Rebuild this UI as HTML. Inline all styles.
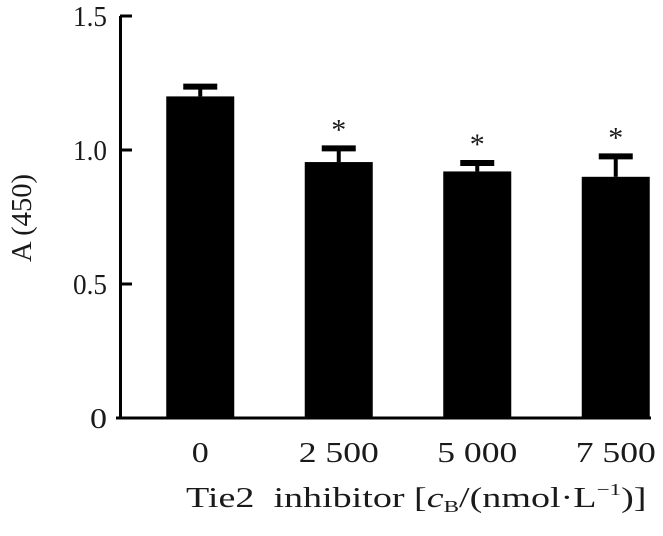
<!DOCTYPE html>
<html><head><meta charset="utf-8"><style>
body{margin:0;background:#fff;}
svg text{font-family:"Liberation Serif",serif;fill:#1a1a1a;}
</style></head><body>
<svg id="chart" width="663" height="531" viewBox="0 0 663 531" xmlns="http://www.w3.org/2000/svg">
<g id="g"></g>
</svg>
<script>
const categories = ["0","2 500","5 000","7 500"];
const values = [1.20, 0.955, 0.92, 0.90];
const errors = [0.04, 0.055, 0.035, 0.08];
const stars = [false, true, true, true];
const yTicks = [0, 0.5, 1.0, 1.5];
const yTickLabels = ["0","0.5","1.0","1.5"];

const NS="http://www.w3.org/2000/svg";
const g=document.getElementById('g');
const y0=418, yTop=16, ymax=1.5;
function y(v){return y0-(v/ymax)*(y0-yTop);}
const bandStart=131, band=138.5, barW=68;
function xc(i){return bandStart+band*(i+0.5);}
function mk(tag,attrs,parent){const e=document.createElementNS(NS,tag);for(const k in attrs)e.setAttribute(k,attrs[k]);(parent||g).appendChild(e);return e;}

let ax=mk('line',{x1:120.5,y1:yTop,x2:120.5,y2:y0+1.5,stroke:'#000','stroke-width':3});


let xa=mk('line',{x1:116,y1:y0,x2:651,y2:y0,stroke:'#000','stroke-width':3});



yTicks.forEach((t,i)=>{
  if(t>0){
    const tk=mk('line',{x1:120,y1:y(t),x2:132,y2:y(t),stroke:'#000','stroke-width':3});
    
    
  }
  const s=yTickLabels[i];
  const tx=mk('text',{x:107-(s.length===1?17:34),y:y(t)+10,'font-size':28,textLength:(s.length===1?17:34),lengthAdjust:'spacingAndGlyphs'});
  tx.textContent=s;
  
  
});

values.forEach((v,i)=>{
  const cx=xc(i);
  const r=mk('rect',{x:cx-barW/2,y:y(v),width:barW,height:y0-y(v),fill:'#000'});
  
  
  const ye=y(v+errors[i]);
  const st=mk('line',{x1:cx,y1:y(v),x2:cx,y2:ye,stroke:'#000','stroke-width':4});
  
  
  const cp=mk('line',{x1:cx-17,y1:ye+1,x2:cx+17,y2:ye+1,stroke:'#000','stroke-width':6});
  
  
  if(stars[i]){
    const s=mk('text',{x:cx,y:ye-8,'text-anchor':'middle','font-size':30});
    s.textContent='*';
    
    
  }
  const c=categories[i];
  const lw=c.length===1?17:80;
  const xl=mk('text',{x:cx-lw/2,y:462,'font-size':28,textLength:lw,lengthAdjust:'spacingAndGlyphs'});
  xl.textContent=c;
  
  
});

const xt=mk('text',{x:0,y:0,'font-size':28,transform:'translate(186,507) scale(1.36,1)'});
xt.innerHTML='Tie2&#160;&#160;inhibitor [<tspan font-style="italic">c</tspan><tspan font-size="17" dy="5">B</tspan><tspan dy="-5">/(nmol·L</tspan><tspan font-size="17" dy="-12">−1</tspan><tspan dy="12">)]</tspan>';



const yt=mk('text',{x:0,y:0,'text-anchor':'middle','font-size':28,textLength:88,lengthAdjust:'spacingAndGlyphs',transform:'translate(31,218) rotate(-90)'});
yt.textContent='A (450)';


</script>
</body></html>
